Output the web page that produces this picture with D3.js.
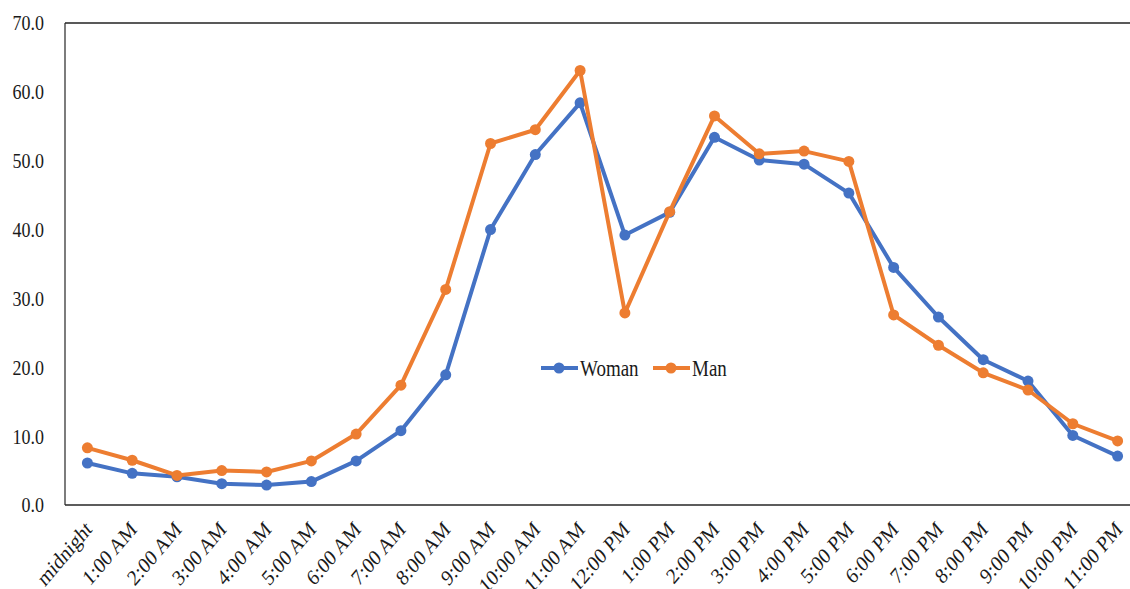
<!DOCTYPE html>
<html>
<head>
<meta charset="utf-8">
<script src="https://cdn.jsdelivr.net/npm/d3@7"></script>
<style>
  html, body { margin: 0; padding: 0; background: #fff; }
  svg { display: block; }
  text { font-family: "Liberation Serif", "Times New Roman", serif; fill: #1a1a1a; }
</style>
</head>
<body>
<svg id="chart" width="1130" height="589"></svg>
<script>
// Hourly categories
const hours = ["midnight", "1:00 AM", "2:00 AM", "3:00 AM", "4:00 AM", "5:00 AM",
  "6:00 AM", "7:00 AM", "8:00 AM", "9:00 AM", "10:00 AM", "11:00 AM",
  "12:00 PM", "1:00 PM", "2:00 PM", "3:00 PM", "4:00 PM", "5:00 PM",
  "6:00 PM", "7:00 PM", "8:00 PM", "9:00 PM", "10:00 PM", "11:00 PM"];

// Series values
const woman = [6.1, 4.6, 4.1, 3.1, 2.9, 3.4, 6.4, 10.8, 18.9, 40.0, 50.9, 58.4,
  39.2, 42.5, 53.4, 50.1, 49.5, 45.3, 34.5, 27.3, 21.1, 18.0, 10.1, 7.1];
const man = [8.3, 6.5, 4.3, 5.0, 4.8, 6.4, 10.3, 17.4, 31.3, 52.5, 54.5, 63.1,
  27.9, 42.6, 56.5, 51.0, 51.4, 49.9, 27.6, 23.2, 19.2, 16.7, 11.8, 9.3];

// Y axis ticks
const yTicks = [0, 10, 20, 30, 40, 50, 60, 70];

const seriesNames = ["Woman", "Man"];
const seriesColors = ["#4472C4", "#ED7D31"];

const svg = d3.select("#chart");
const plotLeft = 65, plotRight = 1130, plotTop = 23, plotBottom = 505;
const textStretch = 1.2; // glyphs are drawn slightly taller than wide

const x = d3.scaleBand().domain(hours).range([plotLeft, 1140]);
const y = d3.scaleLinear().domain([0, 70]).range([plotBottom, plotTop]);
const cx = d => x(d) + x.bandwidth() / 2;

// Frame: left, top, bottom lines
svg.append("line").attr("x1", plotLeft).attr("x2", plotRight).attr("y1", plotTop).attr("y2", plotTop)
  .attr("stroke", "#595959").attr("stroke-width", 2);
svg.append("line").attr("x1", plotLeft).attr("x2", plotRight).attr("y1", plotBottom).attr("y2", plotBottom)
  .attr("stroke", "#262626").attr("stroke-width", 1.5);
svg.append("line").attr("x1", plotLeft).attr("x2", plotLeft).attr("y1", plotTop).attr("y2", plotBottom)
  .attr("stroke", "#262626").attr("stroke-width", 1.2);

// Y axis labels
const yAxis = d3.axisLeft(y).tickValues(yTicks).tickFormat(d3.format(".1f")).tickSize(0).tickPadding(0);
const gy = svg.append("g").attr("transform", `translate(${plotLeft},0)`).call(yAxis);
gy.select(".domain").remove();
gy.selectAll("text")
  .style("font-size", "18px").style("font-family", "Liberation Serif").attr("fill", "#1a1a1a")
  .attr("x", 0).attr("dy", "0.32em")
  .attr("transform", `translate(-21,0) scale(1,${textStretch})`);

// X axis labels, rotated
const xAxis = d3.axisBottom(x).tickSize(0).tickPadding(0);
const gx = svg.append("g").attr("transform", `translate(0,${plotBottom})`).call(xAxis);
gx.select(".domain").remove();
gx.selectAll("text")
  .style("font-size", "18.5px").style("font-family", "Liberation Serif").attr("fill", "#1a1a1a")
  .attr("text-anchor", "end")
  .attr("dy", "0.35em")
  .attr("y", 0)
  .attr("transform", `translate(1,20) scale(1.02,${textStretch}) rotate(-45)`);

// Lines and markers
const line = d3.line().x((d, i) => cx(hours[i])).y(d => y(d));
[woman, man].forEach((vals, k) => {
  svg.append("path").datum(vals)
    .attr("d", line)
    .attr("fill", "none")
    .attr("stroke", seriesColors[k])
    .attr("stroke-width", 4)
    .attr("stroke-linejoin", "round");
  svg.append("g").selectAll("circle").data(vals).join("circle")
    .attr("cx", (d, i) => cx(hours[i]))
    .attr("cy", d => y(d))
    .attr("r", 5.5)
    .attr("fill", seriesColors[k]);
});

// Legend
const legend = svg.append("g").attr("transform", "translate(541,368)");
const legendX = [0, 112];
seriesNames.forEach((name, k) => {
  const g = legend.append("g").attr("transform", `translate(${legendX[k]},0)`);
  g.append("line").attr("x1", 0).attr("x2", 37).attr("y1", 0).attr("y2", 0)
    .attr("stroke", seriesColors[k]).attr("stroke-width", 4);
  g.append("circle").attr("cx", 18).attr("cy", 0).attr("r", 5.5).attr("fill", seriesColors[k]);
  g.append("text").attr("x", 0).attr("y", 0).attr("dy", "0.35em")
    .attr("transform", `translate(39,0) scale(1,${textStretch})`)
    .style("font-size", "19px").text(name);
});
</script>
</body>
</html>
